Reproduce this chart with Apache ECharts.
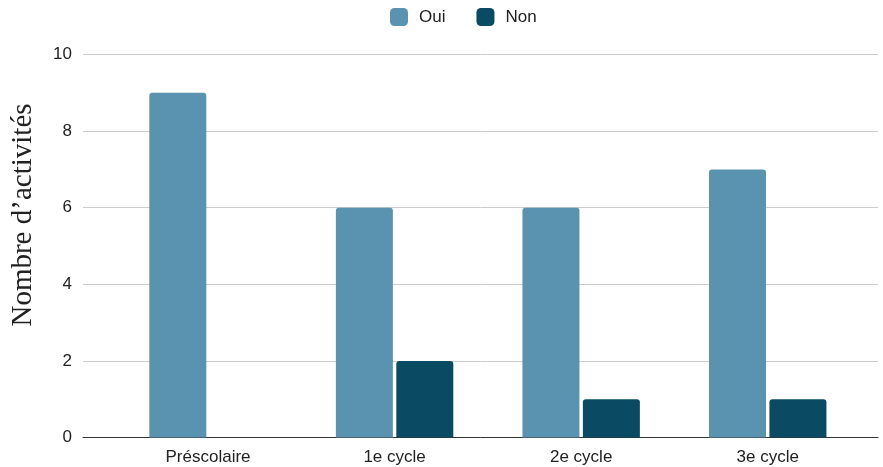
<!DOCTYPE html>
<html>
<head>
<meta charset="utf-8">
<script src="https://cdn.jsdelivr.net/npm/echarts@6/dist/echarts.min.js"></script>
<style>
  html, body { margin: 0; padding: 0; background: #ffffff; }
  #chart { width: 883px; height: 467px; }
</style>
</head>
<body>
<div id="chart"></div>
<script>
// categories and values
const categories = ['Préscolaire', '1e cycle', '2e cycle', '3e cycle'];
const ouiValues = [9, 6, 6, 7];
const nonValues = [0, 2, 1, 1];
const yTicks = [0, 2, 4, 6, 8, 10];

const chart = echarts.init(document.getElementById('chart'));

const font = 'Liberation Sans, Arial, sans-serif';

const option = {
    animation: false,
    legend: {
        top: 3,
        left: 385,
        itemWidth: 18,
        itemHeight: 18,
        itemGap: 31,
        icon: 'roundRect',
        textStyle: { fontFamily: font, fontSize: 17, color: '#222', padding: [0, 0, 0, 6] },
        data: ['Oui', 'Non']
    },
    // y axis title, placed by hand like the original
    graphic: [{
        type: 'text',
        x: 23,
        y: 215,
        rotation: Math.PI / 2,
        style: {
            text: 'Nombre d’activités',
            font: '29px "Liberation Serif", "Times New Roman", serif',
            fill: '#222',
            align: 'center',
            verticalAlign: 'middle'
        }
    }],
    grid: [
        // background grid: gridlines + y labels
        { left: 83, right: 5, top: 54.5, bottom: 29.5 },
        // bar grid: narrower category band
        { left: 114.75, right: 22, top: 54.5, bottom: 29.5 }
    ],
    xAxis: [
        {
            gridIndex: 0, type: 'value', min: 0, max: 1, show: true,
            axisLine: { show: true, lineStyle: { color: '#333', width: 1 } },
            axisTick: { show: false }, axisLabel: { show: false }, splitLine: { show: false }
        },
        {
            gridIndex: 1, type: 'category', data: categories,
            axisLine: { show: false }, axisTick: { show: false },
            axisLabel: { fontFamily: font, fontSize: 17, color: '#222', margin: 11 }
        }
    ],
    yAxis: [
        {
            gridIndex: 0, type: 'value', min: yTicks[0], max: yTicks[yTicks.length - 1], interval: 2,
            axisLine: { show: false }, axisTick: { show: false },
            axisLabel: { fontFamily: font, fontSize: 17, color: '#222', margin: 11 },
            splitLine: { lineStyle: { color: '#cccccc', width: 1 } }
        },
        {
            gridIndex: 1, type: 'value', min: 0, max: 10, interval: 2, show: false
        }
    ],
    series: [
        {
            name: 'Oui', type: 'bar', xAxisIndex: 1, yAxisIndex: 1,
            data: ouiValues, barWidth: 57, barGap: '6%',
            itemStyle: { color: '#5a93b0', borderRadius: [3, 3, 0, 0] }
        },
        {
            name: 'Non', type: 'bar', xAxisIndex: 1, yAxisIndex: 1,
            data: nonValues, barWidth: 57,
            itemStyle: { color: '#0b4a63', borderRadius: [3, 3, 0, 0] }
        }
    ]
};

chart.setOption(option);
</script>
</body>
</html>
